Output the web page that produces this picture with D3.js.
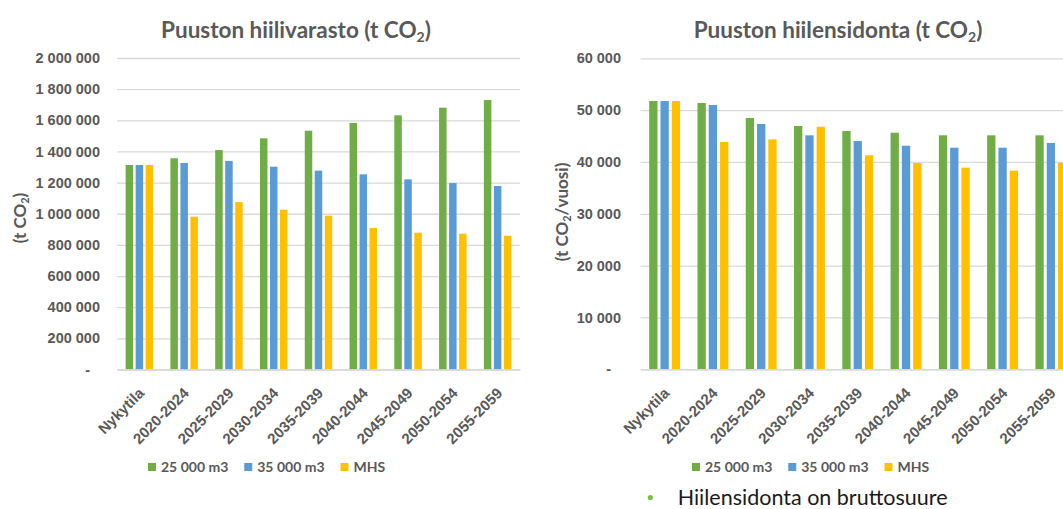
<!DOCTYPE html>
<html>
<head>
<meta charset="utf-8">
<script src="https://cdn.jsdelivr.net/npm/d3@7"></script>
<style>
  body { margin: 0; background: #fff; }
  svg { display: block; font-family: Lato, "Open Sans", sans-serif; }
</style>
</head>
<body>
<div id="canvas"></div>
<script>
const categories = ["Nykytila", "2020-2024", "2025-2029", "2030-2034", "2035-2039", "2040-2044", "2045-2049", "2050-2054", "2055-2059"];
const seriesNames = ["25 000 m3", "35 000 m3", "MHS"];
const colors = ["#70AD47", "#5B9BD5", "#FFC000"];

// Puuston hiilivarasto (t CO2)
const storage25 = [1313000, 1356000, 1409000, 1484000, 1533000, 1583000, 1632000, 1681000, 1730000];
const storage35 = [1313000, 1326000, 1339000, 1302000, 1277000, 1253000, 1221000, 1197000, 1178000];
const storageMHS = [1313000, 981000, 1075000, 1026000, 988000, 908000, 878000, 872000, 859000];
const storageTicks = [0, 200000, 400000, 600000, 800000, 1000000, 1200000, 1400000, 1600000, 1800000, 2000000];

// Puuston hiilensidonta (t CO2/vuosi)
const sink25 = [51760, 51380, 48480, 46940, 45970, 45650, 45140, 45140, 45140];
const sink35 = [51760, 50990, 47320, 45140, 44040, 43140, 42750, 42750, 43660];
const sinkMHS = [51760, 43850, 44370, 46800, 41290, 39800, 38900, 38320, 39860];
const sinkTicks = [0, 10000, 20000, 30000, 40000, 50000, 60000];

const width = 1063;
const height = 509;
const textColor = "#595959";

const svg = d3.select("#canvas").append("svg")
    .attr("width", width)
    .attr("height", height);

// 1 200 000 style, "-" for zero
const fmt = v => v === 0 ? "-" : d3.format(",")(v).replace(/,/g, " ");

function drawChart(opt) {
    const g = svg.append("g");
    const values = [opt.s1, opt.s2, opt.s3];

    const y = d3.scaleLinear()
        .domain([0, d3.max(opt.ticks)])
        .range([opt.bottom, opt.top]);

    const x0 = d3.scaleBand()
        .domain(categories)
        .range([opt.left, opt.right])
        .paddingInner(opt.groupPad)
        .paddingOuter(opt.groupPad / 2);

    const x1 = d3.scaleBand()
        .domain(seriesNames)
        .range([0, x0.bandwidth()])
        .paddingInner(opt.barPad);

    // grid + y labels
    const yAxis = g.append("g")
        .attr("transform", `translate(${opt.left},0)`)
        .call(d3.axisLeft(y)
            .tickValues(opt.ticks)
            .tickSizeInner(-(opt.right - opt.left))
            .tickSizeOuter(0)
            .tickPadding(opt.tickPad)
            .tickFormat(fmt));
    yAxis.select(".domain").remove();
    yAxis.selectAll(".tick line").attr("stroke", "#D9D9D9").attr("stroke-width", 1.3);
    yAxis.selectAll(".tick text")
        .attr("fill", textColor)
        .style("font-size", "14.5px")
        .style("font-weight", "bold")
        .attr("dx", d => d === 0 ? -10 : 0);

    // bars
    const groups = g.selectAll(".grp")
        .data(categories)
        .enter().append("g")
        .attr("class", "grp")
        .attr("transform", d => `translate(${x0(d)},0)`);

    groups.selectAll("rect")
        .data((d, i) => seriesNames.map((s, j) => ({ s, j, v: values[j][i] })))
        .enter().append("rect")
        .attr("x", d => x1(d.s))
        .attr("y", d => y(d.v))
        .attr("width", x1.bandwidth())
        .attr("height", d => y(0) - y(d.v))
        .attr("fill", d => colors[d.j]);

    // x axis
    const xAxis = g.append("g")
        .attr("transform", `translate(0,${opt.bottom})`)
        .call(d3.axisBottom(x0).tickSize(0).tickPadding(0));
    xAxis.select(".domain").attr("stroke", "#D9D9D9").attr("stroke-width", 1.5);
    xAxis.selectAll(".tick text")
        .attr("fill", textColor)
        .style("font-size", "15px")
        .style("font-weight", "bold")
        .attr("text-anchor", "end")
        .attr("dy", "0.35em")
        .attr("transform", "translate(2,21) rotate(-45)");

    // title
    const title = g.append("text")
        .attr("x", opt.titleX)
        .attr("y", 38)
        .attr("text-anchor", "middle")
        .attr("fill", textColor)
        .style("font-size", "22.5px")
        .style("font-weight", "bold");
    title.append("tspan").text(opt.title + " (t CO");
    title.append("tspan").text("2").style("font-size", "14px").attr("dy", 4);
    title.append("tspan").text(")").attr("dy", -4);

    // y axis title
    const yt = g.append("text")
        .attr("transform", `translate(${opt.yTitleX},${opt.yTitleY}) rotate(-90)`)
        .attr("text-anchor", "middle")
        .attr("fill", textColor)
        .style("font-size", "17px")
        .style("font-weight", "bold");
    yt.append("tspan").text("(t CO");
    yt.append("tspan").text("2").style("font-size", "11px").attr("dy", 3);
    yt.append("tspan").text(opt.yUnit + ")").attr("dy", -3);

    // legend
    const leg = g.append("g").attr("transform", `translate(${opt.legendX},471.5)`);
    let lx = 0;
    seriesNames.forEach((s, j) => {
        leg.append("rect")
            .attr("x", lx).attr("y", -8.5)
            .attr("width", 8).attr("height", 8)
            .attr("fill", colors[j]);
        const t = leg.append("text")
            .attr("x", lx + 13)
            .attr("fill", textColor)
            .style("font-size", "14px")
            .style("font-weight", "bold")
            .text(s);
        lx += 13 + t.node().getComputedTextLength() + 16;
    });
}

drawChart({
    s1: storage25, s2: storage35, s3: storageMHS, ticks: storageTicks,
    left: 117, right: 520, top: 58, bottom: 369.5,
    groupPad: 0.386, barPad: 0.25, tickPad: 17,
    title: "Puuston hiilivarasto", titleX: 296,
    yTitleX: 26, yTitleY: 218, yUnit: "",
    legendX: 148
});

drawChart({
    s1: sink25, s2: sink35, s3: sinkMHS, ticks: sinkTicks,
    left: 640.5, right: 1075, top: 58.3, bottom: 369.3,
    groupPad: 0.36, barPad: 0.265, tickPad: 19.5,
    title: "Puuston hiilensidonta", titleX: 838,
    yTitleX: 568, yTitleY: 212, yUnit: "/vuosi",
    legendX: 692
});

// note below the right chart
svg.append("circle")
    .attr("cx", 650.3).attr("cy", 497.5).attr("r", 2.6)
    .attr("fill", "#7AC143");
svg.append("text")
    .attr("x", 677.7).attr("y", 504.5)
    .attr("fill", "#1a1a1a")
    .style("font-size", "21.5px")
    .text("Hiilensidonta on bruttosuure");
</script>
</body>
</html>
